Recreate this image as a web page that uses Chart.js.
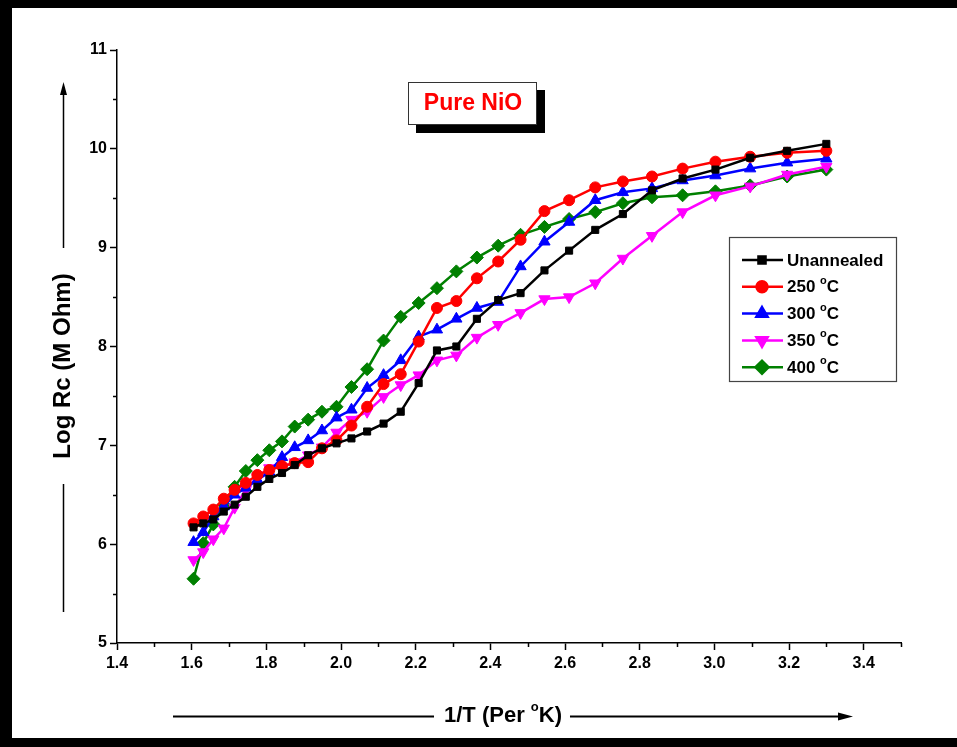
<!DOCTYPE html>
<html>
<head>
<meta charset="utf-8">
<script src="https://cdn.jsdelivr.net/npm/chart.js@4"></script>
<style>
  html, body { margin: 0; padding: 0; background: #fff; }
  #wrap { position: relative; width: 957px; height: 747px; }
  canvas { display: block; }
</style>
</head>
<body>
<div id="wrap"><canvas id="c" width="957" height="747"></canvas></div>
<script>
// 1/T values (x1000), shared by all series
const invT = [1.605, 1.631, 1.658, 1.686, 1.715, 1.745, 1.776, 1.808, 1.842, 1.876, 1.912,
  1.949, 1.988, 2.028, 2.070, 2.114, 2.160, 2.208, 2.257, 2.309, 2.364, 2.421, 2.481,
  2.545, 2.611, 2.681, 2.755, 2.833, 2.915, 3.003, 3.096, 3.195, 3.300];

const unannealed = [6.17, 6.21, 6.25, 6.33, 6.40, 6.48, 6.58, 6.66, 6.72, 6.80, 6.90,
  6.97, 7.02, 7.07, 7.14, 7.22, 7.34, 7.63, 7.96, 8.00, 8.28, 8.47, 8.54,
  8.77, 8.97, 9.18, 9.34, 9.58, 9.70, 9.79, 9.91, 9.98, 10.05];
const t250 = [6.21, 6.28, 6.35, 6.46, 6.55, 6.62, 6.70, 6.75, 6.79, 6.82, 6.83,
  6.97, 7.05, 7.20, 7.39, 7.62, 7.72, 8.05, 8.39, 8.46, 8.69, 8.86, 9.08,
  9.37, 9.48, 9.61, 9.67, 9.72, 9.80, 9.87, 9.92, 9.96, 9.98];
const t300 = [6.02, 6.12, 6.28, 6.38, 6.50, 6.57, 6.65, 6.73, 6.88, 6.98, 7.05,
  7.15, 7.28, 7.36, 7.58, 7.71, 7.86, 8.10, 8.17, 8.28, 8.39, 8.45, 8.81,
  9.06, 9.26, 9.48, 9.56, 9.60, 9.68, 9.73, 9.80, 9.86, 9.90];
const t350 = [5.84, 5.92, 6.05, 6.16, 6.37, 6.55, 6.68, 6.77, 6.78, 6.83, 6.90,
  6.98, 7.13, 7.26, 7.34, 7.49, 7.61, 7.71, 7.86, 7.91, 8.09, 8.22, 8.34,
  8.48, 8.50, 8.64, 8.89, 9.12, 9.36, 9.53, 9.62, 9.74, 9.82];
const t400 = [5.65, 6.01, 6.20, 6.40, 6.58, 6.74, 6.85, 6.95, 7.04, 7.19, 7.26,
  7.34, 7.39, 7.59, 7.77, 8.06, 8.30, 8.44, 8.59, 8.76, 8.90, 9.02, 9.13,
  9.21, 9.29, 9.36, 9.45, 9.51, 9.53, 9.57, 9.63, 9.72, 9.79];

const seriesNames = ['Unannealed', '250', '300', '350', '400'];
const seriesData = [unannealed, t250, t300, t350, t400];
const seriesColors = ['#000000', '#ff0000', '#0000ff', '#ff00ff', '#008000'];
const seriesPoints = ['rect', 'circle', 'triangle', 'triangle', 'rectRot'];
const seriesRot = [0, 0, 0, 180, 0];
const seriesRadius = [5, 5.5, 6.5, 6.5, 6.5];

const xRange = [1.4, 3.5];
const xTickVals = [1.4, 1.6, 1.8, 2.0, 2.2, 2.4, 2.6, 2.8, 3.0, 3.2, 3.4];
const yRange = [5, 11];

const TICK_FONT = { family: "'Liberation Sans Narrow', 'Liberation Sans', Arial, sans-serif", size: 16, weight: 'bold' };
const SANS = "'Liberation Sans', Arial, sans-serif";

// ── frame, titles, minor ticks, label box, legend ──
const decor = {
  id: 'decor',
  beforeDraw(chart) {
    const ctx = chart.ctx;
    ctx.save();
    ctx.fillStyle = '#fff';
    ctx.fillRect(0, 0, chart.width, chart.height);
    ctx.restore();
  },
  afterDraw(chart) {
    const ctx = chart.ctx;
    const xs = chart.scales.x, ys = chart.scales.y;
    const a = chart.chartArea;
    ctx.save();

    // frame
    ctx.fillStyle = '#000';
    ctx.fillRect(0, 0, chart.width, 8);
    ctx.fillRect(0, 0, 12, chart.height);
    ctx.fillRect(0, chart.height - 9, chart.width, 9);

    // minor ticks
    ctx.strokeStyle = '#000';
    ctx.lineWidth = 1.5;
    ctx.beginPath();
    for (let v = 1.5; v < 3.55; v += 0.2) {
      const px = Math.round(xs.getPixelForValue(v)) + 0.5;
      ctx.moveTo(px, a.bottom); ctx.lineTo(px, a.bottom + 4);
    }
    for (let v = 5.5; v < 11; v += 1) {
      const py = Math.round(ys.getPixelForValue(v)) + 0.5;
      ctx.moveTo(a.left - 4, py); ctx.lineTo(a.left, py);
    }
    ctx.stroke();

    // y title with lines + arrow
    const tx = 63, ty = 366;
    ctx.save();
    ctx.translate(tx, ty);
    ctx.rotate(-Math.PI / 2);
    ctx.font = 'bold 24px ' + SANS;
    ctx.fillStyle = '#000';
    ctx.textAlign = 'center';
    ctx.textBaseline = 'middle';
    ctx.fillText('Log Rc (M Ohm)', 0, 0);
    ctx.restore();
    ctx.lineWidth = 1.5;
    ctx.beginPath();
    ctx.moveTo(tx + 0.5, 612); ctx.lineTo(tx + 0.5, 484);
    ctx.moveTo(tx + 0.5, 248); ctx.lineTo(tx + 0.5, 92);
    ctx.stroke();
    ctx.beginPath();
    ctx.moveTo(tx + 0.5, 82); ctx.lineTo(tx - 3, 95); ctx.lineTo(tx + 4, 95); ctx.closePath();
    ctx.fill();

    // x title with lines + arrow
    const by = 716;
    ctx.font = 'bold 22px ' + SANS;
    ctx.textBaseline = 'middle';
    ctx.textAlign = 'left';
    const t1 = '1/T (Per ', t3 = 'K)';
    const w1 = ctx.measureText(t1).width;
    ctx.font = 'bold 13px ' + SANS;
    const w2 = ctx.measureText('o').width;
    ctx.font = 'bold 22px ' + SANS;
    const w3 = ctx.measureText(t3).width;
    const total = w1 + w2 + w3;
    const sx = 503 - total / 2;
    ctx.fillText(t1, sx, by);
    ctx.font = 'bold 13px ' + SANS;
    ctx.fillText('o', sx + w1, by - 9);
    ctx.font = 'bold 22px ' + SANS;
    ctx.fillText(t3, sx + w1 + w2, by);
    ctx.lineWidth = 2;
    ctx.beginPath();
    ctx.moveTo(173, by + 0.5); ctx.lineTo(sx - 10, by + 0.5);
    ctx.moveTo(sx + total + 8, by + 0.5); ctx.lineTo(842, by + 0.5);
    ctx.stroke();
    ctx.beginPath();
    ctx.moveTo(853, by + 0.5); ctx.lineTo(838, by - 3.5); ctx.lineTo(838, by + 4.5); ctx.closePath();
    ctx.fill();

    // "Pure NiO" box with shadow
    ctx.fillStyle = '#000';
    ctx.fillRect(416, 90, 129, 43);
    ctx.fillStyle = '#fff';
    ctx.fillRect(408, 82, 129, 43);
    ctx.strokeStyle = '#333';
    ctx.lineWidth = 1;
    ctx.strokeRect(408.5, 82.5, 128, 42);
    ctx.fillStyle = '#ff0000';
    ctx.font = 'bold 23px ' + SANS;
    ctx.textAlign = 'center';
    ctx.fillText('Pure NiO', 473, 104);

    // legend
    ctx.strokeStyle = '#444';
    ctx.lineWidth = 1.2;
    ctx.fillStyle = '#fff';
    ctx.fillRect(729, 237, 167, 144);
    ctx.strokeRect(729.5, 237.5, 167, 144);
    ctx.textAlign = 'left';
    chart.data.datasets.forEach((ds, i) => {
      const ry = 260 + i * 26.8;
      ctx.strokeStyle = ds.borderColor;
      ctx.lineWidth = 2.5;
      ctx.beginPath();
      ctx.moveTo(742, ry); ctx.lineTo(783, ry);
      ctx.stroke();
      ctx.fillStyle = ds.borderColor;
      Chart.helpers.drawPoint(ctx, {
        pointStyle: ds.pointStyle, rotation: ds.pointRotation,
        radius: ds.pointRadius, borderWidth: 1
      }, 762, ry);
      ctx.fillStyle = '#000';
      ctx.font = 'bold 17px ' + SANS;
      const nm = seriesNames[i];
      if (i === 0) {
        ctx.fillText(nm, 787, ry + 1);
      } else {
        const w = ctx.measureText(nm + ' ').width;
        ctx.fillText(nm + ' ', 787, ry + 1);
        ctx.font = 'bold 11px ' + SANS;
        ctx.fillText('o', 787 + w, ry - 6);
        const wo = ctx.measureText('o').width;
        ctx.font = 'bold 17px ' + SANS;
        ctx.fillText('C', 787 + w + wo, ry + 1);
      }
    });

    ctx.restore();
  }
};

const datasets = seriesData.map((vals, i) => ({
  label: seriesNames[i],
  data: vals.map((y, k) => ({ x: invT[k], y })),
  borderColor: seriesColors[i],
  backgroundColor: seriesColors[i],
  borderWidth: 2.5,
  pointStyle: seriesPoints[i],
  pointRotation: seriesRot[i],
  pointRadius: seriesRadius[i],
  pointBorderWidth: 1,
  pointBackgroundColor: seriesColors[i],
  pointBorderColor: seriesColors[i],
  tension: 0,
  fill: false,
}));

new Chart(document.getElementById('c'), {
  type: 'line',
  data: { datasets },
  options: {
    responsive: false,
    animation: false,
    layout: { padding: { left: 0, top: 50, right: 56, bottom: 0 } },
    plugins: { legend: { display: false }, tooltip: { enabled: false } },
    scales: {
      x: {
        type: 'linear',
        min: xRange[0], max: xRange[1],
        afterFit: s => { s.height = 104; },
        afterBuildTicks: s => { s.ticks = xTickVals.map(v => ({ value: v })); },
        border: { color: '#000', width: 1.5 },
        grid: { display: true, drawOnChartArea: false, tickLength: 7, tickColor: '#000', tickWidth: 1.5 },
        ticks: {
          color: '#000', font: TICK_FONT, padding: 4,
          maxRotation: 0, autoSkip: false,
          callback: v => Number(v).toFixed(1)
        }
      },
      y: {
        min: yRange[0], max: yRange[1],
        afterFit: s => { s.width = 117; },
        border: { color: '#000', width: 1.5 },
        grid: { display: true, drawOnChartArea: false, tickLength: 7, tickColor: '#000', tickWidth: 1.5 },
        ticks: { stepSize: 1, color: '#000', font: TICK_FONT, padding: 3 }
      }
    }
  },
  plugins: [decor]
});
</script>
</body>
</html>
